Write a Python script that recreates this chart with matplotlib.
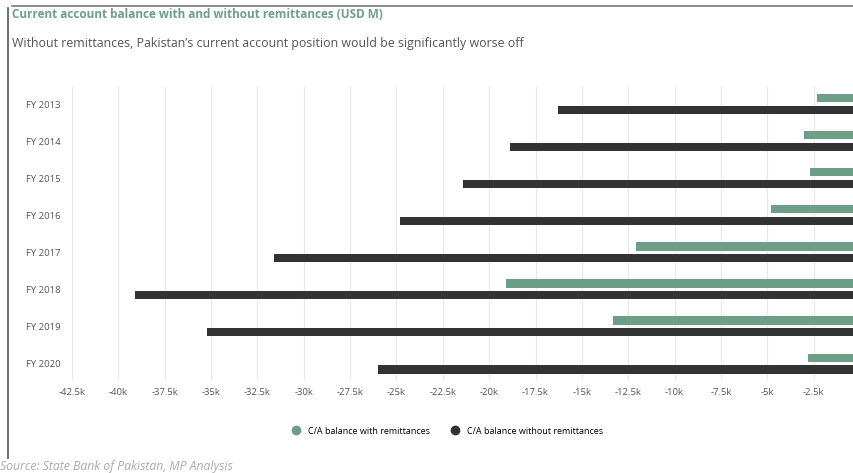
import matplotlib.pyplot as plt
from matplotlib.lines import Line2D
from matplotlib.ticker import FixedLocator, FuncFormatter

# Data (USD M)
years = ['FY 2013', 'FY 2014', 'FY 2015', 'FY 2016', 'FY 2017', 'FY 2018', 'FY 2019', 'FY 2020']
with_remit = [-2300, -3000, -2700, -4800, -12100, -19100, -13300, -2800]
without_remit = [-16300, -18900, -21400, -24800, -31600, -39100, -35200, -26000]

green = '#6d9f86'
dark = '#333333'

plt.rcParams['font.family'] = 'Open Sans'

fig = plt.figure(figsize=(8.54, 4.73), dpi=100)
ax = fig.add_axes([72 / 854, 1 - 380 / 473, 788 / 854, 293 / 473])

pos = list(range(len(years)))
h = 0.22
ax.barh([p - 0.155 for p in pos], with_remit, height=h, color=green, zorder=3)
ax.barh([p + 0.165 for p in pos], without_remit, height=h, color=dark, zorder=3)

ax.set_xlim(-42500, 0)
ax.set_ylim(7.45, -0.46)

ticks = [-42500 + 2500 * i for i in range(17)]
ax.xaxis.set_major_locator(FixedLocator(ticks))
ax.xaxis.set_major_formatter(FuncFormatter(lambda v, p: f"-{abs(v) / 1000:g}k"))
ax.grid(axis='x', color='#e8e8e8', linewidth=0.8, zorder=0)
ax.set_yticks(pos)
ax.set_yticklabels(years)
ax.tick_params(axis='both', length=0, labelsize=6.8, colors='#555555')
ax.tick_params(axis='x', pad=6)
ax.tick_params(axis='y', pad=8)
for s in ax.spines.values():
    s.set_visible(False)

# titles
fig.text(12 / 854, 1 - 15 / 473, 'Current account balance with and without remittances (USD M)',
         fontsize=8.5, fontweight='bold', color=green, va='center')
fig.text(12 / 854, 1 - 44 / 473,
         "Without remittances, Pakistan\u2019s current account position would be significantly worse off",
         fontsize=8.9, color='#555555', va='center')
fig.text(0, 1 - 466 / 473, 'Source: State Bank of Pakistan, MP Analysis',
         fontsize=8.8, color='#aaaaaa', style='italic', va='center')

# frame lines
fig.add_artist(Line2D([12 / 854, 1], [1 - 6 / 473, 1 - 6 / 473], color='#777777', linewidth=1.2))
fig.add_artist(Line2D([8 / 854, 8 / 854], [1 - 8 / 473, 1 - 458 / 473], color='#555555', linewidth=1.2))

handles = [
    Line2D([], [], marker='o', linestyle='', color=green, markersize=6, label='C/A balance with remittances'),
    Line2D([], [], marker='o', linestyle='', color=dark, markersize=6, label='C/A balance without remittances'),
]
fig.legend(handles=handles, loc='center', bbox_to_anchor=(445 / 854, 1 - 431 / 473), ncol=2,
           frameon=False, fontsize=6.5, handletextpad=0.3, columnspacing=1.8)

fig.savefig('out.png', dpi=100)
